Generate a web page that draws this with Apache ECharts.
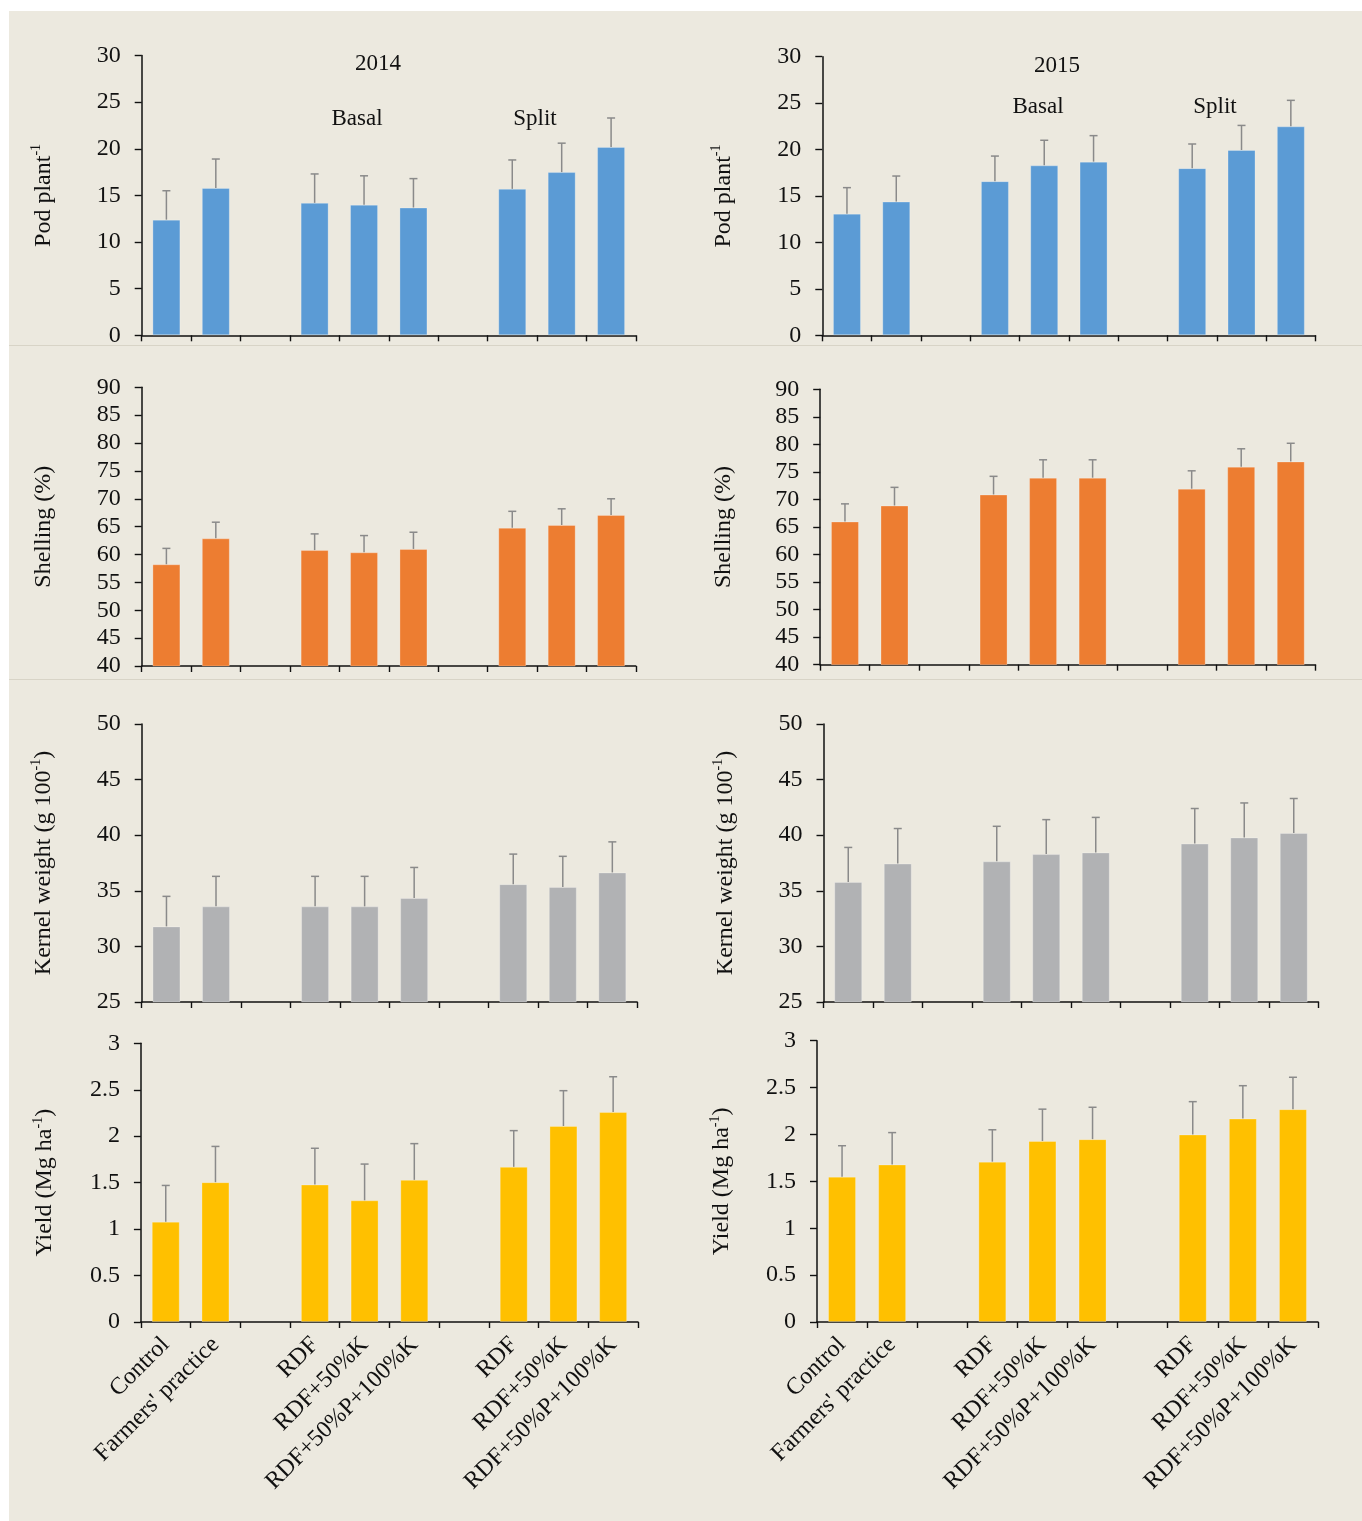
<!DOCTYPE html>
<html><head><meta charset="utf-8">
<script src="https://cdn.jsdelivr.net/npm/echarts@6/dist/echarts.min.js"></script>
<style>html,body{margin:0;padding:0;background:#fff}#c{width:1362px;height:1521px}</style>
</head><body><div id="c"></div><script>
// ---- data ----
const categories = ['Control', "Farmers' practice", '', 'RDF', 'RDF+50%K', 'RDF+50%P+100%K', '', 'RDF', 'RDF+50%K', 'RDF+50%P+100%K'];

const pod2014      = [12.4, 15.8, null, 14.2, 14.0, 13.7, null, 15.7, 17.5, 20.2];
const pod2014Top   = [15.5, 18.9, null, 17.3, 17.1, 16.8, null, 18.8, 20.6, 23.3];
const pod2015      = [13.1, 14.4, null, 16.6, 18.3, 18.7, null, 18.0, 19.95, 22.5];
const pod2015Top   = [15.9, 17.15, null, 19.3, 21.0, 21.5, null, 20.6, 22.6, 25.3];

const shell2014    = [58.25, 62.9, null, 60.8, 60.4, 61.0, null, 64.8, 65.3, 67.1];
const shell2014Top = [61.1, 65.8, null, 63.7, 63.4, 64.0, null, 67.75, 68.2, 70.0];
const shell2015    = [66.0, 68.9, null, 70.9, 73.95, 73.95, null, 71.95, 75.95, 76.9];
const shell2015Top = [69.2, 72.2, null, 74.2, 77.2, 77.2, null, 75.2, 79.2, 80.2];

const kern2014     = [31.8, 33.6, null, 33.6, 33.6, 34.35, null, 35.6, 35.35, 36.65];
const kern2014Top  = [34.5, 36.3, null, 36.3, 36.3, 37.1, null, 38.3, 38.1, 39.4];
const kern2015     = [35.8, 37.45, null, 37.65, 38.3, 38.45, null, 39.25, 39.8, 40.2];
const kern2015Top  = [38.9, 40.6, null, 40.8, 41.4, 41.6, null, 42.4, 42.9, 43.3];

const yield2014    = [1.08, 1.505, null, 1.48, 1.31, 1.53, null, 1.67, 2.11, 2.26];
const yield2014Top = [1.47, 1.89, null, 1.87, 1.70, 1.92, null, 2.06, 2.49, 2.64];
const yield2015    = [1.55, 1.68, null, 1.71, 1.93, 1.95, null, 2.00, 2.17, 2.27];
const yield2015Top = [1.88, 2.02, null, 2.05, 2.27, 2.29, null, 2.35, 2.52, 2.61];

const podTicks   = {min: 0, max: 30, interval: 5};
const shellTicks = {min: 40, max: 90, interval: 5};
const kernTicks  = {min: 25, max: 50, interval: 5};
const yieldTicks = {min: 0, max: 3, interval: 0.5};

const yearLabels = ['2014', '2015'];
const groupLabels = ['Basal', 'Split'];

// ---- styling / layout ----
const FONT = "'Liberation Serif', 'Times New Roman', serif";
const BLUE = '#5b9bd5', ORANGE = '#ed7d31', GREY = '#b1b2b4', YELLOW = '#ffc000';
const ERR = '#8a8a8a';

const panels = [
  {vals: pod2014, tops: pod2014Top, ticks: podTicks, color: BLUE, name: '{b|Pod plant}{s|-1}', grid: {left: 141.7, top: 55.5, width: 494.1, height: 279.8}, gap: 84, xl: false},
  {vals: pod2015, tops: pod2015Top, ticks: podTicks, color: BLUE, name: '{b|Pod plant}{s|-1}', grid: {left: 822.3, top: 56.7, width: 493.2, height: 278.6}, gap: 85, xl: false},
  {vals: shell2014, tops: shell2014Top, ticks: shellTicks, color: ORANGE, name: '{b|Shelling (%)}', grid: {left: 141.7, top: 387.3, width: 494.1, height: 278.7}, gap: 84, xl: false},
  {vals: shell2015, tops: shell2015Top, ticks: shellTicks, color: ORANGE, name: '{b|Shelling (%)}', grid: {left: 820.2, top: 389.3, width: 495.3, height: 275.4}, gap: 82, xl: false},
  {vals: kern2014, tops: kern2014Top, ticks: kernTicks, color: GREY, name: '{b|Kernel weight (g 100}{s|-1}{b|)}', grid: {left: 141.7, top: 724, width: 495.4, height: 278}, gap: 84, xl: false},
  {vals: kern2015, tops: kern2015Top, ticks: kernTicks, color: GREY, name: '{b|Kernel weight (g 100}{s|-1}{b|)}', grid: {left: 823.5, top: 724, width: 495, height: 278}, gap: 84, xl: false},
  {vals: yield2014, tops: yield2014Top, ticks: yieldTicks, color: YELLOW, name: '{b|Yield (Mg ha}{s|-1}{b|)}', grid: {left: 140.9, top: 1043.3, width: 497.1, height: 278.7}, gap: 82, xl: true},
  {vals: yield2015, tops: yield2015Top, ticks: yieldTicks, color: YELLOW, name: '{b|Yield (Mg ha}{s|-1}{b|)}', grid: {left: 817, top: 1040.7, width: 501, height: 281.3}, gap: 81, xl: true}
];

const grids = [], xAxes = [], yAxes = [], series = [];
panels.forEach((p, i) => {
  grids.push(Object.assign({containLabel: false}, p.grid));
  xAxes.push({
    type: 'category', gridIndex: i, data: categories, boundaryGap: true,
    axisLine: {show: true, lineStyle: {color: '#111', width: 1.5}},
    axisTick: {show: true, interval: 0, length: 6, lineStyle: {color: '#111', width: 1.4}},
    axisLabel: {show: p.xl, interval: 0, rotate: 45, margin: 19, color: '#111', fontFamily: FONT, fontSize: 24},
    splitLine: {show: false}
  });
  yAxes.push({
    type: 'value', gridIndex: i, min: p.ticks.min, max: p.ticks.max, interval: p.ticks.interval,
    axisLine: {show: true, lineStyle: {color: '#111', width: 1.5}},
    axisTick: {show: true, length: 7, lineStyle: {color: '#111', width: 1.4}},
    axisLabel: {margin: 21, color: '#111', fontFamily: FONT, fontSize: 24},
    splitLine: {show: false},
    name: p.name, nameLocation: 'middle', nameRotate: 90, nameGap: p.gap,
    nameTextStyle: {
      fontFamily: FONT, color: '#111',
      rich: {
        b: {fontFamily: FONT, fontSize: 24, color: '#111', lineHeight: 28, verticalAlign: 'middle'},
        s: {fontFamily: FONT, fontSize: 14, color: '#111', lineHeight: 14, verticalAlign: 'top'}
      }
    }
  });
  series.push({
    type: 'bar', xAxisIndex: i, yAxisIndex: i, barWidth: 28,
    data: p.vals.map(v => v === null ? '-' : v),
    itemStyle: {color: p.color, borderColor: 'rgba(255,255,255,0.25)', borderWidth: 1},
    silent: true, animation: false
  });
  const errData = [];
  p.vals.forEach((v, k) => { if (v !== null) errData.push([k, v, p.tops[k]]); });
  series.push({
    type: 'custom', xAxisIndex: i, yAxisIndex: i, z: 5, silent: true, animation: false,
    encode: {x: 0, y: [1, 2]},
    data: errData,
    renderItem: function (params, api) {
      const x = api.value(0), v = api.value(1), t = api.value(2);
      const p0 = api.coord([x, v]), p1 = api.coord([x, t]);
      const st = {stroke: ERR, lineWidth: 1.5};
      return {type: 'group', children: [
        {type: 'line', shape: {x1: p0[0], y1: p0[1], x2: p1[0], y2: p1[1]}, style: st},
        {type: 'line', shape: {x1: p1[0] - 4, y1: p1[1], x2: p1[0] + 4, y2: p1[1]}, style: st}
      ]};
    }
  });
});

const txt = (s, x, y) => ({type: 'text', x: x, y: y, z: 10, silent: true,
  style: {text: s, font: '23px ' + FONT, fill: '#111', textAlign: 'center', textVerticalAlign: 'middle'}});

const graphic = [
  {type: 'rect', z: -10, silent: true, shape: {x: 9, y: 11, width: 1362, height: 1521}, style: {fill: '#ece9df'}},
  {type: 'line', z: -5, silent: true, shape: {x1: 9, y1: 345.5, x2: 1362, y2: 345.5}, style: {stroke: '#d8d4c7', lineWidth: 1.2}},
  {type: 'line', z: -5, silent: true, shape: {x1: 9, y1: 679.5, x2: 1362, y2: 679.5}, style: {stroke: '#d8d4c7', lineWidth: 1.2}},
  txt(yearLabels[0], 378, 64), txt(groupLabels[0], 357, 119), txt(groupLabels[1], 535, 119),
  txt(yearLabels[1], 1057, 66), txt(groupLabels[0], 1038, 107), txt(groupLabels[1], 1215, 107)
];

const chart = echarts.init(document.getElementById('c'), null, {renderer: 'canvas'});
chart.setOption({
  backgroundColor: '#ffffff',
  animation: false,
  textStyle: {fontFamily: FONT},
  grid: grids, xAxis: xAxes, yAxis: yAxes, series: series, graphic: graphic
});
</script></body></html>
